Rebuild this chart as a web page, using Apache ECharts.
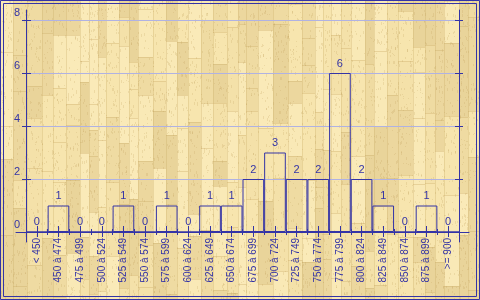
<!DOCTYPE html>
<html><head><meta charset="utf-8">
<script src="https://cdn.jsdelivr.net/npm/echarts@6/dist/echarts.min.js"></script>
<style>html,body{margin:0;padding:0;}#c{width:480px;height:300px;background-repeat:no-repeat;}</style>
</head><body><div id="c"></div>
<script>
const categories = ['< 450','450 à 474','475 à 499','500 à 524','525 à 549','550 à 574','575 à 599','600 à 624','625 à 649','650 à 674','675 à 699','700 à 724','725 à 749','750 à 774','775 à 799','800 à 824','825 à 849','850 à 874','875 à 899','>= 900'];
const counts = [0,1,0,0,1,0,1,0,1,1,2,3,2,2,6,2,1,0,1,0];
const yMin = 0, yMax = 8, yStep = 2;

function woodTexture(w, h) {
  const cv = document.createElement('canvas'); cv.width = w; cv.height = h;
  const g = cv.getContext('2d');
  let s = 12345;
  const rnd = () => { s = (s * 1103515245 + 12345) & 0x7fffffff; return s / 0x7fffffff; };
  const shades = ['#f7e5ae','#efdba2','#e9d49a','#f4e1a9','#faeab8','#ecd79e','#f9e9b6'];
  g.fillStyle = '#f0dca6'; g.fillRect(0, 0, w, h);
  for (let x = 0; x < w;) {
    const pw = 8 + Math.floor(rnd() * 8);
    for (let y = -Math.floor(rnd() * 60); y < h;) {
      const ph = 20 + Math.floor(rnd() * 80);
      g.fillStyle = shades[Math.floor(rnd() * shades.length)];
      g.fillRect(x, y, pw, ph);
      g.fillStyle = 'rgba(200,170,100,0.35)';
      g.fillRect(x, y, pw, 1);
      y += ph;
    }
    g.fillStyle = 'rgba(200,170,100,0.3)'; g.fillRect(x, 0, 1, h);
    x += pw;
  }
  for (let i = 0; i < 5000; i++) {
    g.fillStyle = 'rgba(190,160,90,0.22)';
    g.fillRect(Math.floor(rnd() * w), Math.floor(rnd() * h), 1, 1 + Math.floor(rnd() * 3));
  }
  return cv.toDataURL();
}
const el = document.getElementById('c');
el.style.backgroundImage = 'url(' + woodTexture(480, 300) + ')';

const BLUE = '#3434a6';
const GRID = '#b0b2e2';
const FONT = 'Liberation Sans';
const chart = echarts.init(el, null, {renderer: 'canvas'});
const hid = {axisLine:{show:false},axisTick:{show:false},axisLabel:{show:false},splitLine:{show:false}};
const tick = (o) => Object.assign({show:true,lineStyle:{color:BLUE,width:1}}, o);
chart.setOption({
  animation: false,
  textStyle: {fontFamily: FONT},
  grid: [
    {left: 26, right: 21, top: 20, bottom: 68},
    {left: 16, right: 11, top: 20, bottom: 68},
    {left: 26, right: 21, top: 10, bottom: 58}
  ],
  xAxis: [
    {type:'category', gridIndex:0, position:'bottom', data:categories,
     axisLine:{show:false}, axisTick:tick({alignWithLabel:true,length:5,interval:0}),
     axisLabel:{rotate:90, margin:6, color:BLUE, fontSize:10, interval:0, fontFamily:FONT},
     splitLine:{show:false}},
    {type:'category', gridIndex:0, position:'bottom', data:categories,
     axisLine:{show:false}, axisTick:tick({alignWithLabel:true,inside:true,length:6,interval:0}),
     axisLabel:{show:false}, splitLine:{show:false}},
    {type:'category', gridIndex:0, position:'bottom', data:categories,
     axisLine:{show:false}, axisTick:tick({alignWithLabel:false,length:3,interval:0}),
     axisLabel:{show:false}, splitLine:{show:false}},
    {type:'category', gridIndex:0, position:'bottom', data:categories,
     axisLine:{show:false}, axisTick:tick({alignWithLabel:false,inside:true,length:3,interval:0}),
     axisLabel:{show:false}, splitLine:{show:false}},
    {type:'value', gridIndex:1, position:'bottom', min:0, max:1, z:5,
     axisLine:{show:true,lineStyle:{color:BLUE,width:1}}, axisTick:{show:false}, axisLabel:{show:false}, splitLine:{show:false}},
    Object.assign({type:'value', gridIndex:2, min:0, max:1}, hid)
  ],
  yAxis: [
    {type:'value', gridIndex:0, position:'left', min:yMin, max:yMax, interval:yStep,
     axisLine:{show:false}, axisTick:tick({length:4}),
     axisLabel:{color:BLUE, fontSize:11, margin:6, verticalAlign:'bottom', padding:[0,0,2,0], fontFamily:FONT},
     splitLine:{show:true, lineStyle:{color:GRID, width:1}}},
    {type:'value', gridIndex:0, position:'left', min:yMin, max:yMax, interval:yStep,
     axisLine:{show:false}, axisTick:tick({length:5,inside:true}), axisLabel:{show:false}, splitLine:{show:false}},
    {type:'value', gridIndex:0, position:'right', min:yMin, max:yMax, interval:yStep,
     axisLine:{show:false}, axisTick:tick({length:4}), axisLabel:{show:false}, splitLine:{show:false}},
    {type:'value', gridIndex:0, position:'right', min:yMin, max:yMax, interval:yStep,
     axisLine:{show:false}, axisTick:tick({length:4,inside:true}), axisLabel:{show:false}, splitLine:{show:false}},
    Object.assign({type:'value', gridIndex:1, min:0, max:1}, hid),
    {type:'value', gridIndex:2, position:'left', min:0, max:1, z:5,
     axisLine:{show:true,lineStyle:{color:BLUE,width:1}}, axisTick:{show:false}, axisLabel:{show:false}, splitLine:{show:false}},
    {type:'value', gridIndex:2, position:'right', min:0, max:1, z:5,
     axisLine:{show:true,lineStyle:{color:BLUE,width:1}}, axisTick:{show:false}, axisLabel:{show:false}, splitLine:{show:false}}
  ],
  series: [{
    type:'bar', xAxisIndex:0, yAxisIndex:0, data:counts, barCategoryGap:'0%',
    itemStyle:{color:'rgba(0,0,0,0)', borderColor:BLUE, borderWidth:1},
    label:{show:true, position:'top', distance:4, color:BLUE, fontSize:11, fontFamily:FONT},
    emphasis:{disabled:true}, z:3
  }],
  graphic: [
    {type:'rect', silent:true, shape:{x:0.5,y:0.5,width:479,height:299}, style:{fill:null, stroke:BLUE, lineWidth:1}},
    {type:'rect', silent:true, shape:{x:3.5,y:3.5,width:473,height:293}, style:{fill:null, stroke:BLUE, lineWidth:1}}
  ]
});
</script>
</body></html>
